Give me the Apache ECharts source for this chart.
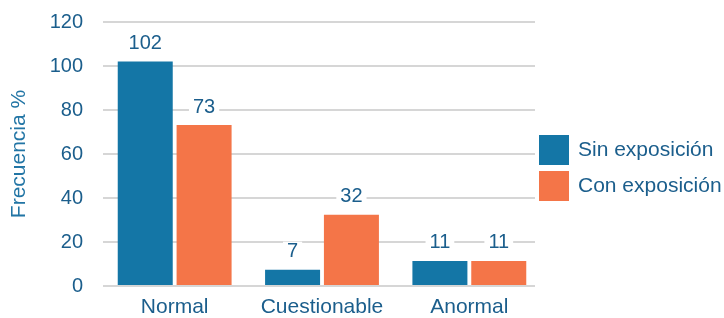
<!DOCTYPE html>
<html>
<head>
<meta charset="utf-8">
<script src="https://cdn.jsdelivr.net/npm/echarts@6/dist/echarts.min.js"></script>
<style>
  html, body { margin: 0; padding: 0; background: #fff; }
  #chart { width: 724px; height: 318px; }
</style>
</head>
<body>
<div id="chart"></div>
<script>
var categories = ['Normal', 'Cuestionable', 'Anormal'];
var sinExposicion = [102, 7, 11];
var conExposicion = [73, 32, 11];
var yTicks = { min: 0, max: 120, interval: 20 };

var txt = '#1b5e8c';
var font = 'Liberation Sans, Arial, sans-serif';
var myChart = echarts.init(document.getElementById('chart'));

var labelStyle = {
    show: true,
    position: 'top',
    distance: 8,
    color: txt,
    fontSize: 20,
    fontFamily: font,
    backgroundColor: '#fff',
    padding: [0, 4]
};

option = {
    animation: false,
    textStyle: { fontFamily: font },
    // grid 0 carries the bars, grid 1 only the gridlines and tick labels
    grid: [
        { left: 101, width: 442, top: 22, bottom: 32 },
        { left: 103, right: 189, top: 22, bottom: 32 }
    ],
    legend: {
        orient: 'vertical',
        left: 539,
        top: 135,
        padding: 0,
        icon: 'rect',
        itemWidth: 30,
        itemHeight: 30,
        itemGap: 6,
        textStyle: { color: txt, fontSize: 21, fontFamily: font, padding: [0, 0, 0, 4] },
        data: ['Sin exposición', 'Con exposición']
    },
    xAxis: [{
        type: 'category',
        gridIndex: 0,
        data: categories,
        axisLine: { show: false },
        axisTick: { show: false },
        axisLabel: { color: txt, fontSize: 21, fontFamily: font, margin: 12, interval: 0, hideOverlap: false }
    }, {
        type: 'value',
        gridIndex: 1,
        show: false
    }],
    yAxis: [{
        type: 'value',
        gridIndex: 0,
        min: yTicks.min,
        max: yTicks.max,
        interval: yTicks.interval,
        show: false
    }, {
        type: 'value',
        gridIndex: 1,
        min: yTicks.min,
        max: yTicks.max,
        interval: yTicks.interval,
        name: 'Frecuencia %',
        nameLocation: 'middle',
        nameRotate: 90,
        nameGap: 73,
        nameTextStyle: { color: '#2275a5', fontSize: 21, fontFamily: font },
        axisLine: { show: false },
        axisTick: { show: false },
        axisLabel: { color: txt, fontSize: 20, fontFamily: font, margin: 20 },
        splitLine: { lineStyle: { color: '#c8c8c8', width: 1.5 } }
    }],
    series: [{
        name: 'Sin exposición',
        type: 'bar',
        xAxisIndex: 0,
        yAxisIndex: 0,
        barWidth: 55,
        barGap: '7%',
        itemStyle: { color: '#1476a6' },
        label: labelStyle,
        data: sinExposicion
    }, {
        name: 'Con exposición',
        type: 'bar',
        xAxisIndex: 0,
        yAxisIndex: 0,
        barWidth: 55,
        barGap: '7%',
        itemStyle: { color: '#f47548' },
        label: labelStyle,
        data: conExposicion
    }]
};
myChart.setOption(option);
</script>
</body>
</html>
